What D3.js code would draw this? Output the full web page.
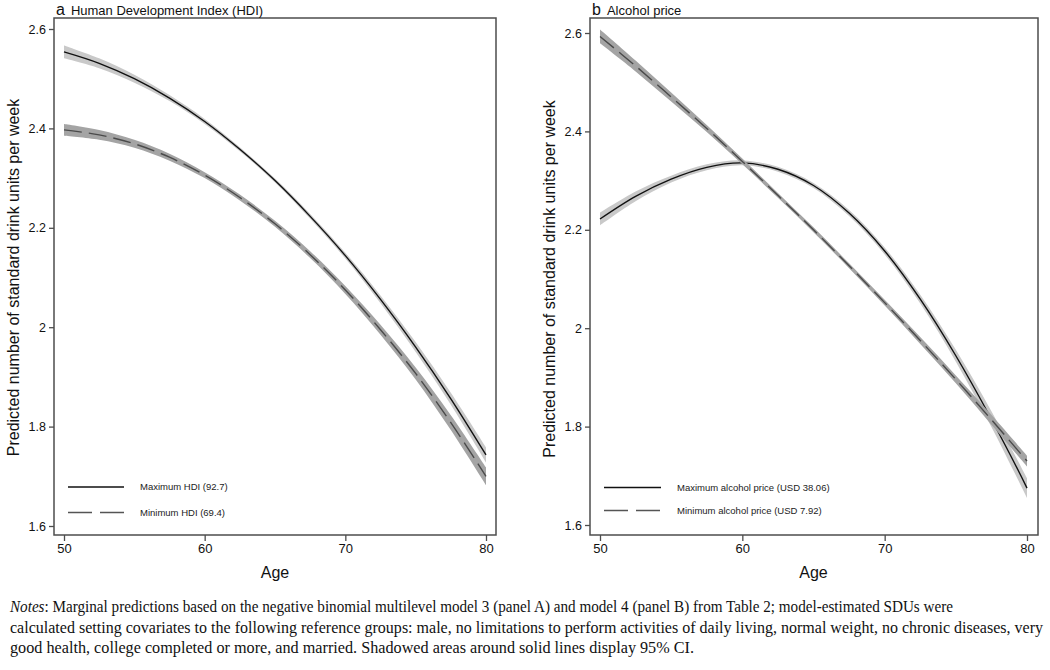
<!DOCTYPE html>
<html><head><meta charset="utf-8">
<script src="https://cdn.jsdelivr.net/npm/d3@7"></script>
<style>body{margin:0;background:#fff} svg{display:block}</style>
</head><body>
<svg id="chart" width="1050" height="670"></svg>
<script>
// ---------- data ----------
const ages = [50, 52.5, 55, 57.5, 60, 62.5, 65, 67.5, 70, 72.5, 75, 77.5, 80];
const hdiMax     = [2.554, 2.531, 2.500, 2.461, 2.414, 2.358, 2.295, 2.223, 2.144, 2.056, 1.960, 1.856, 1.743];
const hdiMaxCI   = [0.013, 0.010, 0.008, 0.006, 0.005, 0.004, 0.004, 0.005, 0.006, 0.008, 0.010, 0.012, 0.015];
const hdiMin     = [2.397, 2.387, 2.369, 2.342, 2.306, 2.261, 2.208, 2.146, 2.075, 1.995, 1.907, 1.808, 1.700];
const hdiMinCI   = [0.012, 0.010, 0.008, 0.007, 0.006, 0.006, 0.006, 0.007, 0.008, 0.010, 0.012, 0.015, 0.018];
const priceMax   = [2.222, 2.268, 2.303, 2.327, 2.336, 2.323, 2.290, 2.234, 2.157, 2.059, 1.944, 1.815, 1.675];
const priceMaxCI = [0.013, 0.010, 0.007, 0.006, 0.005, 0.005, 0.005, 0.006, 0.007, 0.009, 0.012, 0.016, 0.020];
const priceMin   = [2.593, 2.533, 2.470, 2.406, 2.339, 2.270, 2.200, 2.127, 2.052, 1.975, 1.896, 1.814, 1.730];
const priceMinCI = [0.014, 0.011, 0.009, 0.007, 0.006, 0.005, 0.005, 0.005, 0.006, 0.007, 0.008, 0.010, 0.011];
const yTicks = [1.6, 1.8, 2, 2.2, 2.4, 2.6];
const yTickLabels = ["1.6", "1.8", "2", "2.2", "2.4", "2.6"];
const xTicks = [50, 60, 70, 80];
const xTickLabels = ["50", "60", "70", "80"];
const panelLetters = ["a", "b"];
const panelTitles = ["Human Development Index (HDI)", "Alcohol price"];
const legendMax = ["Maximum HDI (92.7)", "Maximum alcohol price (USD 38.06)"];
const legendMin = ["Minimum HDI (69.4)", "Minimum alcohol price (USD 7.92)"];
const xTitle = "Age";
const yTitle = "Predicted number of standard drink units per week";
const notes = [
  ["Notes", ": Marginal predictions based on the negative binomial multilevel model 3 (panel A) and model 4 (panel B) from Table 2; model-estimated SDUs were"],
  ["", "calculated setting covariates to the following reference groups: male, no limitations to perform activities of daily living, normal weight, no chronic diseases, very"],
  ["", "good health, college completed or more, and married. Shadowed areas around solid lines display 95% CI."]
];
const notesWidths = [943, 1033, 684];

// ---------- layout ----------
const svg = d3.select("#chart");
const sans = "'Liberation Sans', Arial, Helvetica, sans-serif";
const panels = [
  { frame: {x0: 54, x1: 496, y0: 18, y1: 535}, xr: [64, 486], yr: [526, 29],
    maxV: hdiMax, maxCI: hdiMaxCI, minV: hdiMin, minCI: hdiMinCI,
    legX: [68, 124], legTextX: 140, legY: [487, 512.5], ytitleX: 19 },
  { frame: {x0: 590, x1: 1038, y0: 18, y1: 535}, xr: [600, 1027], yr: [525, 33],
    maxV: priceMax, maxCI: priceMaxCI, minV: priceMin, minCI: priceMinCI,
    legX: [604, 661], legTextX: 677, legY: [487.5, 510.5], ytitleX: 555 }
];

panels.forEach((p, i) => {
  const g = svg.append("g");
  const x = d3.scaleLinear().domain([50, 80]).range(p.xr);
  const y = d3.scaleLinear().domain([1.6, 2.6]).range(p.yr);
  const f = p.frame;

  const mk = (vals, ci) => ages.map((a, k) => ({a, v: vals[k], lo: vals[k] - ci[k], hi: vals[k] + ci[k]}));
  const maxD = mk(p.maxV, p.maxCI), minD = mk(p.minV, p.minCI);
  const curve = d3.curveCatmullRom.alpha(0.5);
  const area = d3.area().curve(curve).x(d => x(d.a)).y0(d => y(d.lo)).y1(d => y(d.hi));
  const line = d3.line().curve(curve).x(d => x(d.a)).y(d => y(d.v));

  // solid series (max)
  g.append("path").attr("d", area(maxD)).attr("fill", "#c9c9c9");
  g.append("path").attr("d", line(maxD)).attr("fill", "none").attr("stroke", "#111").attr("stroke-width", 1.4);
  // dashed series (min)
  g.append("path").attr("d", area(minD)).attr("fill", "#a4a4a4");
  g.append("path").attr("d", line(minD)).attr("fill", "none").attr("stroke", "#4a4a4a")
    .attr("stroke-width", 1.4).attr("stroke-dasharray", "18,7");

  // frame
  g.append("rect").attr("x", f.x0).attr("y", f.y0).attr("width", f.x1 - f.x0).attr("height", f.y1 - f.y0)
    .attr("fill", "none").attr("stroke", "#4d4d4d").attr("stroke-width", 1.5);

  // axes
  const yAxis = d3.axisLeft(y).tickValues(yTicks).tickSize(5).tickPadding(3)
    .tickFormat((d, k) => yTickLabels[k]);
  const ya = g.append("g").attr("transform", `translate(${f.x0},0)`).call(yAxis);
  const xAxis = d3.axisBottom(x).tickValues(xTicks).tickSize(6).tickPadding(3)
    .tickFormat((d, k) => xTickLabels[k]);
  const xa = g.append("g").attr("transform", `translate(0,${f.y1})`).call(xAxis);
  [ya, xa].forEach(ax => {
    ax.select(".domain").remove();
    ax.selectAll(".tick line").attr("stroke", "#4d4d4d").attr("stroke-width", 1.3);
    ax.selectAll(".tick text").attr("font-family", sans).attr("fill", "#111");
  });
  ya.selectAll(".tick text").attr("font-size", 12.5);
  xa.selectAll(".tick text").attr("font-size", 13);

  // axis titles
  g.append("text").attr("x", (p.xr[0] + p.xr[1]) / 2).attr("y", 578).attr("text-anchor", "middle")
    .attr("font-family", sans).attr("font-size", 16).attr("fill", "#111").text(xTitle);
  g.append("text").attr("transform", `translate(${p.ytitleX},${(p.yr[0] + p.yr[1]) / 2}) rotate(-90)`)
    .attr("text-anchor", "middle").attr("font-family", sans).attr("font-size", 16).attr("fill", "#111").text(yTitle);

  // panel title
  const t = g.append("text").attr("x", f.x0 + 2).attr("y", 15).attr("font-family", sans).attr("fill", "#111");
  t.append("tspan").attr("font-size", 16).text(panelLetters[i]);
  t.append("tspan").attr("font-size", 13).attr("dx", 6).text(panelTitles[i]);

  // legend
  g.append("line").attr("x1", p.legX[0]).attr("x2", p.legX[1]).attr("y1", p.legY[0]).attr("y2", p.legY[0])
    .attr("stroke", "#111").attr("stroke-width", 1.4);
  g.append("line").attr("x1", p.legX[0]).attr("x2", p.legX[1]).attr("y1", p.legY[1]).attr("y2", p.legY[1])
    .attr("stroke", "#555").attr("stroke-width", 1.4).attr("stroke-dasharray", "24,8");
  [legendMax[i], legendMin[i]].forEach((s, k) => {
    g.append("text").attr("x", p.legTextX).attr("y", p.legY[k]).attr("dy", "0.35em")
      .attr("font-family", sans).attr("font-size", 9.5).attr("fill", "#222").text(s);
  });
});

// notes
const serif = "'Liberation Serif', 'Times New Roman', Times, serif";
notes.forEach((ln, k) => {
  const t = svg.append("text").attr("x", 10).attr("y", 612 + k * 20.5)
    .attr("font-family", serif).attr("font-size", 16).attr("fill", "#111")
    .attr("textLength", notesWidths[k]).attr("lengthAdjust", "spacingAndGlyphs");
  if (ln[0]) t.append("tspan").attr("font-style", "italic").text(ln[0]);
  t.append("tspan").text(ln[1]);
});
</script>
</body></html>
